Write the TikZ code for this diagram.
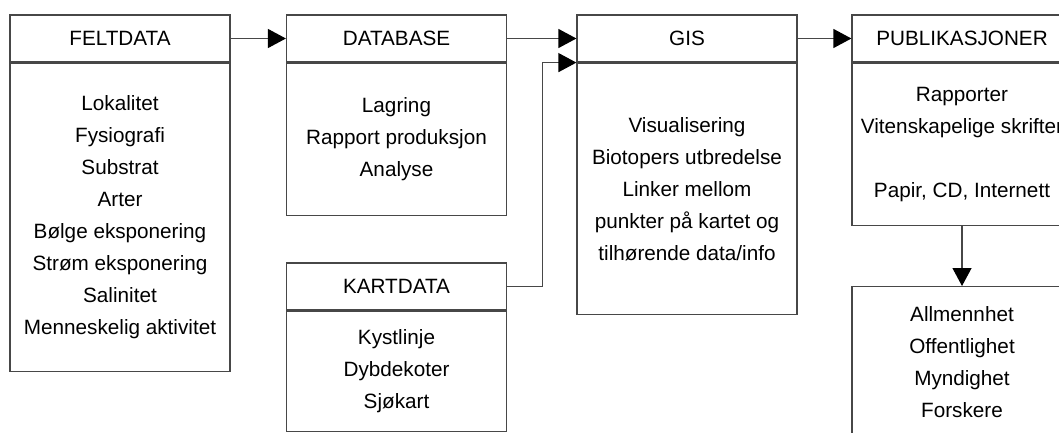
\documentclass[tikz,border=0pt]{standalone}
\usepackage{fontspec}
\setmainfont{Liberation Sans}
\usetikzlibrary{arrows.meta}
\begin{document}
\begin{tikzpicture}[x=1pt,y=-1pt,
  line width=1.2pt,
  boxhdr/.style={draw=black!72, minimum width=220pt, minimum height=47pt, inner sep=0pt,
    font=\fontsize{20.7}{32}\selectfont},
  boxbody/.style={draw=black!72, minimum width=220pt, inner sep=0pt, align=center,
    font=\fontsize{20.7}{32}\selectfont},
  conn/.style={draw=black!72, -{Triangle[length=18pt,width=19pt,color=black]}}
]
\useasboundingbox (0,0) rectangle (1059,433);
\clip (0,0) rectangle (1059,433);
\fill[white] (0,0) rectangle (1059,433);

% FELTDATA
\node[boxhdr] (feltH) at (120,38.5) {FELTDATA};
\node[boxbody, minimum height=308pt, anchor=north] (feltB) at (feltH.south)
  {Lokalitet\\Fysiografi\\Substrat\\Arter\\Bølge eksponering\\Strøm eksponering\\Salinitet\\Menneskelig aktivitet};

% DATABASE
\node[boxhdr] (dbH) at (396.5,38.5) {DATABASE};
\node[boxbody, minimum height=152pt, anchor=north] (dbB) at (dbH.south)
  {Lagring\\Rapport produksjon\\Analyse};

% KARTDATA
\node[boxhdr] (kartH) at (396.5,286.5) {KARTDATA};
\node[boxbody, minimum height=120pt, anchor=north] (kartB) at (kartH.south)
  {Kystlinje\\Dybdekoter\\Sjøkart};

% GIS
\node[boxhdr] (gisH) at (687,38.5) {GIS};
\node[boxbody, minimum height=251pt, anchor=north] (gisB) at (gisH.south)
  {Visualisering\\Biotopers utbredelse\\Linker mellom\\punkter på kartet og\\tilhørende data/info};

% PUBLIKASJONER
\node[boxhdr] (pubH) at (962,38.5) {PUBLIKASJONER};
\node[boxbody, minimum height=162pt, anchor=north] (pubB) at (pubH.south)
  {Rapporter\\Vitenskapelige skrifter\\[32pt]Papir, CD, Internett};

% Audience
\node[boxbody, minimum height=150pt, anchor=north] (audB) at (962,286)
  {Allmennhet\\Offentlighet\\Myndighet\\Forskere};

% connectors
\draw[conn] (feltH) -- (dbH);
\draw[conn] (dbH) -- (gisH);
\draw[conn] (gisH) -- (pubH);
\draw[conn] (kartH.east) -- ++(35.5,0) |- (gisH.south west);
\draw[conn] (pubB.south) -- (audB.north);
\end{tikzpicture}
\end{document}
